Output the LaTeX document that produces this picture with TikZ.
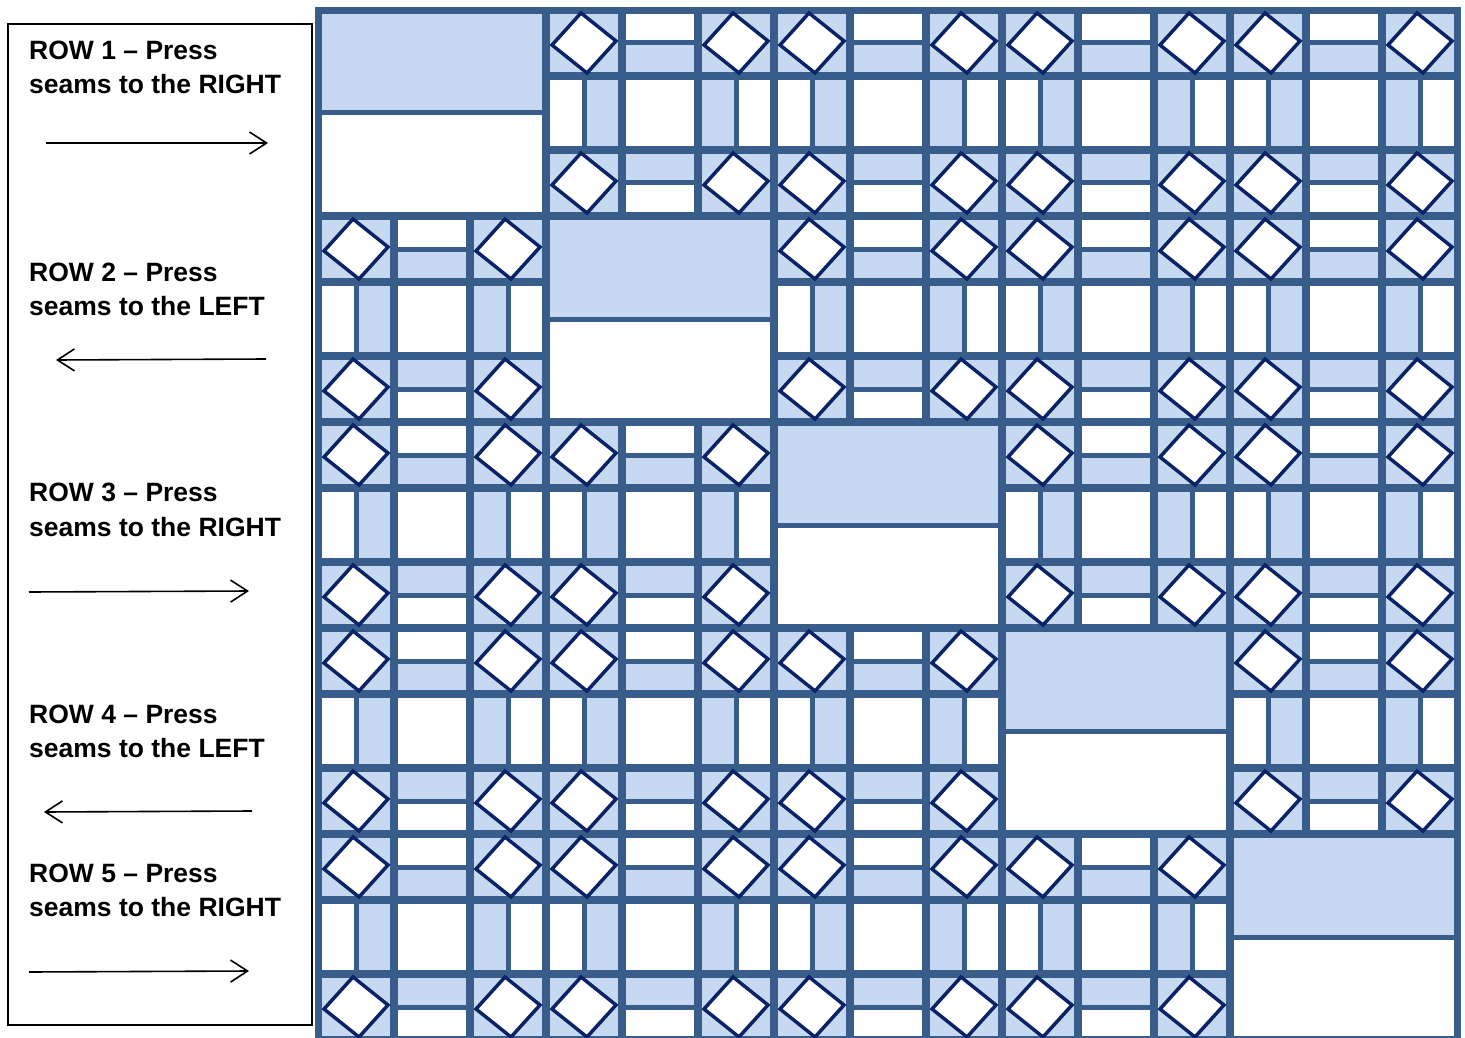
\documentclass[tikz,border=0pt]{standalone}
\usepackage{fontspec}
\setmainfont{Liberation Sans}
\usetikzlibrary{arrows.meta}
\definecolor{qdark}{HTML}{385D8A}
\definecolor{qlight}{HTML}{C6D9F1}
\definecolor{qnavy}{HTML}{0A2266}
\tikzset{
  lbl/.style={anchor=base west, inner sep=0pt, font=\bfseries\fontsize{26.5}{32}\selectfont},
  pressarrow/.style={line width=1.6pt, -{Straight Barb[length=17pt,width=22pt]}},
  panel/.style={draw=black, line width=1.8pt},
  dia/.style={draw=qnavy, line width=3.5pt, fill=white, line join=miter},
}
\newcommand\qcorner[4]{%
  \fill[qlight] ({#1+4},{#2+4}) rectangle ({#3-4},{#4-4});
  \pgfmathsetmacro\dcx{(#1+#3)/2}%
  \pgfmathsetmacro\dcy{(#2+#4)/2}%
  \draw[dia] ({\dcx-3},{\dcy-30}) -- ({\dcx+32},{\dcy-2}) -- ({\dcx+3},{\dcy+30}) -- ({\dcx-32},{\dcy+2}) -- cycle;
}
\newcommand\qhsplit[6]{%
  \pgfmathsetmacro\sym{(#2+#4)/2}%
  \fill[#5] ({#1+4},{#2+4}) rectangle ({#3-4},{\sym-2.5});
  \fill[#6] ({#1+4},{\sym+2.5}) rectangle ({#3-4},{#4-4});
}
\newcommand\qvsplit[6]{%
  \pgfmathsetmacro\sxm{(#1+#3)/2}%
  \fill[#5] ({#1+4},{#2+4}) rectangle ({\sxm-2.5},{#4-4});
  \fill[#6] ({\sxm+2.5},{#2+4}) rectangle ({#3-4},{#4-4});
}
\newcommand\qninepatch[2]{%
  \pgfmathsetmacro\xa{#1}\pgfmathsetmacro\xb{#1+76}\pgfmathsetmacro\xc{#1+152}\pgfmathsetmacro\xd{#1+228}%
  \pgfmathsetmacro\ya{#2}\pgfmathsetmacro\yb{#2+66}\pgfmathsetmacro\yc{#2+140}\pgfmathsetmacro\yd{#2+206}%
  \qcorner{\xa}{\ya}{\xb}{\yb}
  \qcorner{\xc}{\ya}{\xd}{\yb}
  \qcorner{\xa}{\yc}{\xb}{\yd}
  \qcorner{\xc}{\yc}{\xd}{\yd}
  \qhsplit{\xb}{\ya}{\xc}{\yb}{white}{qlight}
  \qhsplit{\xb}{\yc}{\xc}{\yd}{qlight}{white}
  \qvsplit{\xa}{\yb}{\xb}{\yc}{white}{qlight}
  \qvsplit{\xc}{\yb}{\xd}{\yc}{qlight}{white}
  \fill[white] ({\xb+4},{\yb+4}) rectangle ({\xc-4},{\yc-4});
}
\newcommand\qplainblock[2]{\qhsplit{#1}{#2}{#1+228}{#2+206}{qlight}{white}}
\begin{document}
\begin{tikzpicture}[x=1pt,y=-1pt]
\useasboundingbox (0,0) rectangle (1465,1038);
\fill[white] (0,0) rectangle (1465,1038);
% quilt
\begin{scope}
\clip (0,0) rectangle (1465,1038);
\fill[qdark] (315,7) rectangle (1461,1045);
\foreach \qrow in {0,...,4}{
  \foreach \qcol in {0,...,4}{
    \pgfmathsetmacro\bx{318+228*\qcol}
    \pgfmathsetmacro\by{10+206*\qrow}
    \ifnum\qrow=\qcol\relax \qplainblock{\bx}{\by}\else\qninepatch{\bx}{\by}\fi
  }
}
\end{scope}
% left panel
\draw[panel] (8,24) rectangle (312,1025);
\node[lbl] (r1a) at (29,60) {ROW 1 – Press};
\node[lbl] (r1b) at (29,94) {seams to the RIGHT};
\node[lbl] (r2a) at (29,281) {ROW 2 – Press};
\node[lbl] (r2b) at (29,315) {seams to the LEFT};
\node[lbl] (r3a) at (29,501) {ROW 3 – Press};
\node[lbl] (r3b) at (29,536) {seams to the RIGHT};
\node[lbl] (r4a) at (29,723) {ROW 4 – Press};
\node[lbl] (r4b) at (29,757) {seams to the LEFT};
\node[lbl] (r5a) at (29,882) {ROW 5 – Press};
\node[lbl] (r5b) at (29,916) {seams to the RIGHT};
\coordinate (a1s) at (46,143);  \coordinate (a1e) at (268,143);
\coordinate (a2s) at (266,359); \coordinate (a2e) at (56,360);
\coordinate (a3s) at (29,592);  \coordinate (a3e) at (249,591);
\coordinate (a4s) at (252,811); \coordinate (a4e) at (44,812);
\coordinate (a5s) at (29,972);  \coordinate (a5e) at (249,971);
\draw[pressarrow] (a1s) -- (a1e);
\draw[pressarrow] (a2s) -- (a2e);
\draw[pressarrow] (a3s) -- (a3e);
\draw[pressarrow] (a4s) -- (a4e);
\draw[pressarrow] (a5s) -- (a5e);
\end{tikzpicture}
\end{document}
